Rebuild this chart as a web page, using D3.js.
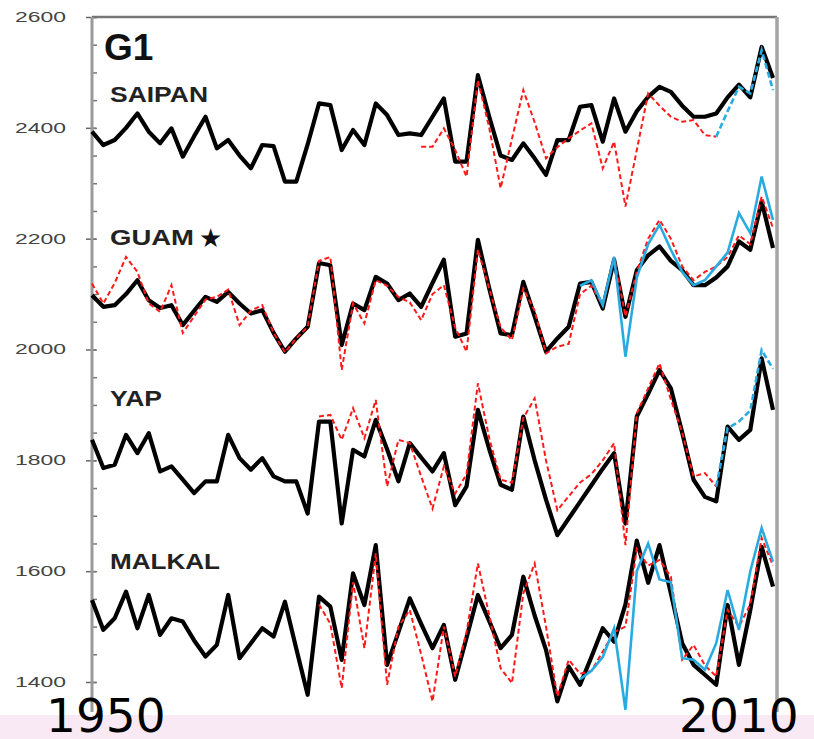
<!DOCTYPE html>
<html>
<head>
<meta charset="utf-8">
<script src="https://cdn.jsdelivr.net/npm/d3@7"></script>
<style>
  body { margin: 0; background: #fff; }
  svg { display: block; }
</style>
</head>
<body>
<svg id="chart" width="814" height="739"></svg>
<script>
// years on the x axis
const firstYear = 1950;
const lastYear = 2010;
const yTicks = [1400, 1600, 1800, 2000, 2200, 2400, 2600];
const yMinorTicks = d3.range(1400, 2601, 50);
const stations = ["SAIPAN", "GUAM", "YAP", "MALKAL"];

// black: station record, 1950-2010
const saipanObs = [2393, 2369, 2378, 2400, 2426, 2393, 2372, 2399, 2348, 2385,
  2420, 2363, 2378, 2350, 2327, 2369, 2367, 2303, 2303, 2370,
  2444, 2441, 2360, 2396, 2369, 2444, 2423, 2387, 2390, 2387,
  2420, 2453, 2339, 2339, 2495, 2420, 2350, 2342, 2372, 2345,
  2315, 2378, 2378, 2438, 2441, 2375, 2453, 2393, 2430, 2456,
  2474, 2465, 2440, 2420, 2420, 2426, 2455, 2478, 2455, 2546, 2490];
const guamObs = [2098, 2077, 2080, 2100, 2125, 2089, 2075, 2080, 2044, 2070,
  2095, 2086, 2104, 2083, 2065, 2071, 2030, 1996, 2020, 2041,
  2156, 2152, 2008, 2083, 2071, 2131, 2119, 2089, 2101, 2077,
  2120, 2162, 2023, 2029, 2198, 2110, 2029, 2026, 2122, 2060,
  1996, 2020, 2041, 2119, 2122, 2074, 2162, 2059, 2143, 2170,
  2186, 2160, 2143, 2116, 2116, 2130, 2150, 2195, 2180, 2267, 2183];
const yapObs = [1837, 1786, 1792, 1846, 1813, 1849, 1780, 1789, 1765, 1741,
  1762, 1762, 1846, 1804, 1783, 1804, 1771, 1762, 1762, 1704,
  1870, 1870, 1686, 1819, 1807, 1873, 1820, 1762, 1831, 1805,
  1780, 1813, 1719, 1753, 1891, 1820, 1756, 1747, 1879, 1800,
  1729, 1665, 1695, 1725, 1755, 1785, 1813, 1686, 1879, 1920,
  1963, 1930, 1850, 1765, 1734, 1726, 1861, 1837, 1855, 1984, 1891];
const malkalObs = [1548, 1494, 1515, 1563, 1497, 1557, 1485, 1515, 1509, 1475,
  1446, 1467, 1557, 1443, 1470, 1497, 1482, 1545, 1460, 1377,
  1554, 1536, 1440, 1596, 1539, 1647, 1431, 1490, 1551, 1505,
  1461, 1503, 1404, 1480, 1557, 1510, 1461, 1485, 1590, 1520,
  1458, 1365, 1428, 1395, 1445, 1497, 1473, 1540, 1655, 1579,
  1647, 1560, 1470, 1431, 1413, 1395, 1539, 1431, 1530, 1644, 1572];

// red dashed: second record, starting year in redStart
const redStart = [1979, 1950, 1970, 1970];
const saipanRed = [2366, 2366, 2399, 2360, 2312, 2486, 2400, 2291, 2380, 2468,
  2410, 2345, 2365, 2381, 2395, 2408, 2327, 2375, 2258, 2360,
  2462, 2440, 2420, 2411, 2414, 2387, 2384];
const guamRed = [2119, 2083, 2120, 2167, 2140, 2083, 2068, 2116, 2030, 2060,
  2090, 2095, 2108, 2044, 2070, 2080, 2030, 1995, 2020, 2041,
  2160, 2167, 1963, 2083, 2047, 2125, 2115, 2095, 2085, 2053,
  2100, 2116, 2040, 1996, 2180, 2110, 2040, 2017, 2110, 2070,
  1993, 2005, 2010, 2100, 2115, 2080, 2167, 2060, 2140, 2200,
  2234, 2200, 2150, 2125, 2140, 2150, 2167, 2206, 2190, 2276, 2219];
const yapRed = [1879, 1882, 1837, 1894, 1840, 1909, 1753, 1837, 1831, 1771,
  1713, 1789, 1740, 1775, 1939, 1840, 1765, 1760, 1876, 1912,
  1800, 1710, 1735, 1760, 1775, 1800, 1831, 1647, 1885, 1930,
  1975, 1910, 1850, 1771, 1777, 1753];
const malkalRed = [1540, 1505, 1389, 1580, 1461, 1632, 1395, 1500, 1530, 1450,
  1365, 1500, 1410, 1490, 1614, 1520, 1425, 1398, 1560, 1614,
  1500, 1374, 1440, 1415, 1420, 1455, 1490, 1500, 1640, 1610,
  1620, 1590, 1440, 1467, 1430, 1410, 1530, 1500, 1540, 1660, 1610];

// blue: third record, starting year in blueStart
const blueStart = [2005, 1993, 2005, 1993];
const blueDashed = [true, false, true, false];
const saipanBlue = [2384, 2430, 2474, 2462, 2540, 2468];
const guamBlue = [2115, 2125, 2080, 2167, 1987, 2130, 2190, 2225, 2180, 2140,
  2116, 2125, 2150, 2175, 2246, 2210, 2312, 2234];
const yapBlue = [1753, 1858, 1870, 1890, 1999, 1965];
const malkalBlue = [1405, 1420, 1445, 1497, 1350, 1600, 1650, 1585, 1580, 1443,
  1440, 1422, 1470, 1566, 1494, 1600, 1678, 1617];

const obsSeries = [saipanObs, guamObs, yapObs, malkalObs];
const redSeries = [saipanRed, guamRed, yapRed, malkalRed];
const blueSeries = [saipanBlue, guamBlue, yapBlue, malkalBlue];

const svg = d3.select("#chart");

const x = d3.scaleLinear().domain([firstYear, lastYear]).range([92, 773]);
const y = d3.scaleLinear().domain([1400, 2600]).range([682, 17]);

// pink band at the bottom
svg.append("rect")
  .attr("x", 0).attr("y", 715)
  .attr("width", 814).attr("height", 24)
  .attr("fill", "#f9e9f5");

// frame: top and right
svg.append("path")
  .attr("d", "M92,17H777")
  .attr("fill", "none")
  .attr("stroke", "#777")
  .attr("stroke-width", 2.5);
svg.append("path")
  .attr("d", "M777,17V712")
  .attr("fill", "none")
  .attr("stroke", "#a5a5a5")
  .attr("stroke-width", 3.5);

// y axis
const yAxis = svg.append("g").attr("transform", "translate(92,0)")
  .call(d3.axisLeft(y).tickValues(yTicks).tickSize(6).tickPadding(20).tickFormat(d3.format("d")));
yAxis.select(".domain").remove();
yAxis.selectAll(".tick line").attr("stroke", "#666").attr("stroke-width", 1.5).attr("x2", 4).attr("x1", -6);
yAxis.selectAll(".tick text")
  .attr("fill", "#444")
  .style("font-family", "'Liberation Sans', Arial, sans-serif")
  .style("font-size", "14px")
  .attr("textLength", 51)
  .attr("lengthAdjust", "spacingAndGlyphs");

const minor = svg.append("g").attr("transform", "translate(92,0)")
  .call(d3.axisRight(y).tickValues(yMinorTicks).tickSize(5).tickFormat(""));
minor.select(".domain").remove();
minor.selectAll(".tick line").attr("stroke", "#777").attr("stroke-width", 1.5);

svg.append("line")
  .attr("x1", 92).attr("x2", 92).attr("y1", 17).attr("y2", 712)
  .attr("stroke", "#9a9a9a").attr("stroke-width", 3);

// lines
const line = d3.line()
  .x(d => x(d.year))
  .y(d => y(d.v));

function points(values, start) {
  return values.map((v, i) => ({year: start + i, v: v}));
}

stations.forEach((name, i) => {
  svg.append("path")
    .datum(points(obsSeries[i], firstYear))
    .attr("d", line)
    .attr("fill", "none")
    .attr("stroke", "#000")
    .attr("stroke-width", 4.2)
    .attr("stroke-linejoin", "round");

  svg.append("path")
    .datum(points(redSeries[i], redStart[i]))
    .attr("d", line)
    .attr("fill", "none")
    .attr("stroke", "#ff1a1a")
    .attr("stroke-width", 2)
    .attr("stroke-dasharray", "5,3");

  svg.append("path")
    .datum(points(blueSeries[i], blueStart[i]))
    .attr("d", line)
    .attr("fill", "none")
    .attr("stroke", "#29abe2")
    .attr("stroke-width", 2.6)
    .attr("stroke-dasharray", blueDashed[i] ? "6,3" : null);
});

// panel and station labels
svg.append("text")
  .attr("x", 104).attr("y", 60)
  .style("font-family", "'Liberation Sans', Arial, sans-serif")
  .style("font-weight", "bold")
  .style("font-size", "37px")
  .attr("fill", "#111")
  .text("G1");

const labelPos = [
  {y: 102, w: 98},
  {y: 245, w: 84},
  {y: 406, w: 52},
  {y: 569, w: 110}
];
stations.forEach((name, i) => {
  svg.append("text")
    .attr("x", 110).attr("y", labelPos[i].y)
    .style("font-family", "'Liberation Sans', Arial, sans-serif")
    .style("font-weight", "bold")
    .style("font-size", "22px")
    .attr("fill", "#222")
    .attr("textLength", labelPos[i].w)
    .attr("lengthAdjust", "spacingAndGlyphs")
    .text(name);
});
svg.append("text")
  .attr("x", 199).attr("y", 247)
  .style("font-family", "'DejaVu Sans', sans-serif")
  .style("font-size", "26px")
  .attr("fill", "#111")
  .text("\u2605");

// year labels
svg.selectAll("text.yearLabel")
  .data([{t: String(firstYear), x: 46}, {t: String(lastYear), x: 679}])
  .join("text")
  .attr("class", "yearLabel")
  .attr("x", d => d.x).attr("y", 732)
  .style("font-family", "'DejaVu Sans', sans-serif")
  .style("font-size", "47px")
  .attr("fill", "#000")
  .text(d => d.t);
</script>
</body>
</html>
